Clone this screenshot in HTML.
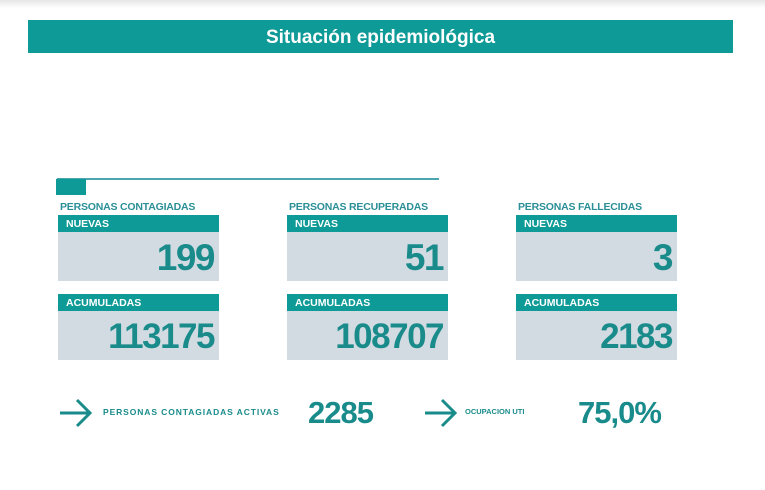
<!DOCTYPE html>
<html><head><meta charset="utf-8"><style>
body{margin:0;width:765px;height:490px;background:#fff;position:relative;overflow:hidden;font-family:"Liberation Sans",sans-serif;}
.a{position:absolute;}
.top{left:0;top:0;width:765px;height:8px;background:linear-gradient(#e6e6e6,#fff);}
.title{left:28px;top:20px;width:705px;height:33px;background:#0e9a97;color:#fff;font-weight:bold;font-size:19px;text-align:center;line-height:35px;}
.lbl{font-size:10.5px;font-weight:bold;color:#2a8f96;letter-spacing:-0.2px;}
.hd{background:#0e9a97;color:#fff;font-size:10.5px;font-weight:bold;height:17px;line-height:18px;padding-left:8px;box-sizing:border-box;width:161px;}
.bd{background:#d2dbe2;width:161px;color:#1a8b8b;font-weight:bold;text-align:right;box-sizing:border-box;padding-right:5px;letter-spacing:-1.5px;}
.big{color:#1a8b8b;font-weight:bold;letter-spacing:-1px;}
.sm{font-size:8.5px;font-weight:bold;color:#1a8b8b;}
</style></head><body>
<div class="a top"></div>
<div class="a title">Situación epidemiológica</div>
<div class="a" style="left:57px;top:178px;width:382px;height:2px;background:#4aa7b0"></div>
<div class="a" style="left:56px;top:179px;width:30px;height:16px;background:#0e9a97"></div>

<div class="a lbl" style="left:60px;top:201px">PERSONAS CONTAGIADAS</div>
<div class="a lbl" style="left:289px;top:201px">PERSONAS RECUPERADAS</div>
<div class="a lbl" style="left:518px;top:201px">PERSONAS FALLECIDAS</div>

<div class="a" style="left:58px;top:215px"><div class="hd">NUEVAS</div><div class="bd" style="height:49px;font-size:37px;line-height:52px">199</div></div>
<div class="a" style="left:287px;top:215px"><div class="hd">NUEVAS</div><div class="bd" style="height:49px;font-size:37px;line-height:52px">51</div></div>
<div class="a" style="left:516px;top:215px"><div class="hd">NUEVAS</div><div class="bd" style="height:49px;font-size:37px;line-height:52px">3</div></div>

<div class="a" style="left:58px;top:294px"><div class="hd">ACUMULADAS</div><div class="bd" style="height:49px;font-size:35px;line-height:52px">113175</div></div>
<div class="a" style="left:287px;top:294px"><div class="hd">ACUMULADAS</div><div class="bd" style="height:49px;font-size:35px;line-height:52px">108707</div></div>
<div class="a" style="left:516px;top:294px"><div class="hd">ACUMULADAS</div><div class="bd" style="height:49px;font-size:35px;line-height:52px">2183</div></div>

<svg class="a" style="left:58px;top:398px" width="36" height="30"><path d="M2 15H32M19 2L32 15L19 28" stroke="#1a8b8b" stroke-width="3" fill="none"/></svg>
<div class="a sm" style="left:103px;top:407px;letter-spacing:0.9px">PERSONAS CONTAGIADAS ACTIVAS</div>
<div class="a big" style="left:308px;top:395px;font-size:31px">2285</div>
<svg class="a" style="left:423px;top:398px" width="36" height="30"><path d="M2 15H32M19 2L32 15L19 28" stroke="#1a8b8b" stroke-width="3" fill="none"/></svg>
<div class="a sm" style="left:465px;top:407px;font-size:7.5px">OCUPACION UTI</div>
<div class="a big" style="left:578px;top:395px;font-size:31px">75,0%</div>
</body></html>
